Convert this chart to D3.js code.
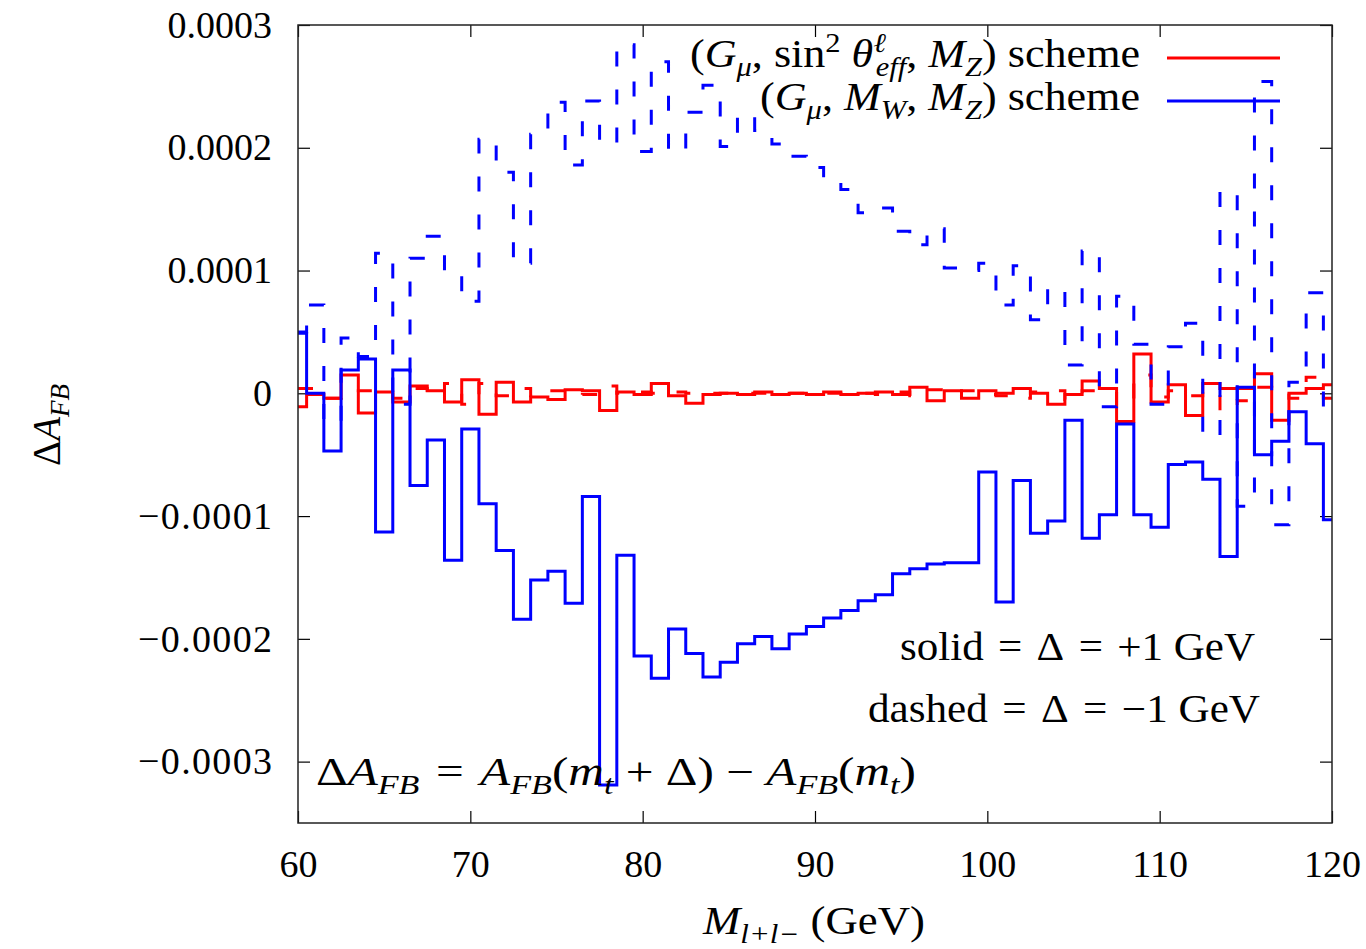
<!DOCTYPE html>
<html>
<head>
<meta charset="utf-8">
<script src="https://cdn.jsdelivr.net/npm/d3@7"></script>
<style>
  body { margin: 0; background: #fff; }
  text { font-family: "Liberation Serif", "DejaVu Serif", serif; fill: #000; }
</style>
</head>
<body>
<svg id="chart" width="1366" height="949"></svg>
<script>
// invariant mass bins (GeV)
const masses = [60, 61, 62, 63, 64, 65, 66, 67, 68, 69, 70, 71, 72, 73, 74, 75, 76, 77, 78, 79,
  80, 81, 82, 83, 84, 85, 86, 87, 88, 89, 90, 91, 92, 93, 94, 95, 96, 97, 98, 99,
  100, 101, 102, 103, 104, 105, 106, 107, 108, 109, 110, 111, 112, 113, 114, 115, 116, 117, 118, 119, 120];

// all values below are Delta A_FB in units of 1e-4
// (G_mu, sin2theta_eff, M_Z) scheme, Delta = +1 GeV
const redSolid = [-0.11, -0.01, -0.04, 0.15, -0.16, 0.01, -0.07, 0.06, 0.02, -0.07,
  0.11, -0.17, 0.09, -0.07, -0.03, -0.05, 0.03, 0.02, -0.14, 0.01,
  -0.01, 0.08, -0.02, -0.08, -0.01, 0.00, -0.01, 0.01, -0.01, 0.00,
  -0.01, 0.01, -0.01, 0.00, 0.01, -0.01, 0.05, -0.06, 0.02, -0.04,
  0.02, 0.00, 0.04, 0.00, -0.09, -0.01, 0.10, 0.04, -0.23, 0.32,
  -0.07, 0.07, -0.18, 0.08, 0.04, 0.04, 0.16, -0.22, 0.00, 0.04, 0.07];
// (G_mu, sin2theta_eff, M_Z) scheme, Delta = -1 GeV
const redDashed = [0.04, 0.04, -0.04, -0.03, 0.02, 0.02, -0.04, 0.04, -0.02, 0.08,
  -0.09, 0.08, -0.02, 0.04, -0.02, 0.02, -0.02, -0.01, 0.06, 0.00,
  0.01, 0.00, 0.01, 0.00, 0.00, 0.00, 0.00, 0.00, 0.00, 0.00,
  0.00, 0.00, 0.00, 0.00, -0.01, 0.01, -0.02, 0.03, 0.00, 0.02,
  -0.01, -0.02, -0.04, 0.01, 0.02, -0.05, 0.02, 0.02, -0.10, 0.15,
  -0.03, 0.02, -0.02, 0.02, -0.14, -0.06, 0.05, 0.04, -0.04, 0.13, -0.04];
// (G_mu, M_W, M_Z) scheme, Delta = +1 GeV
const blueSolid = [0.49, 0.00, -0.47, 0.19, 0.28, -1.13, 0.19, -0.75, -0.38, -1.36,
  -0.29, -0.90, -1.28, -1.84, -1.52, -1.45, -1.71, -0.84, -3.19, -1.32,
  -2.14, -2.32, -1.92, -2.12, -2.31, -2.19, -2.04, -1.98, -2.08, -1.96,
  -1.90, -1.83, -1.77, -1.69, -1.64, -1.47, -1.43, -1.39, -1.38, -1.38,
  -0.64, -1.70, -0.71, -1.14, -1.04, -0.22, -1.18, -0.99, -0.25, -0.99,
  -1.09, -0.58, -0.56, -0.70, -1.33, 0.05, -0.50, -0.39, -0.15, -0.41, -1.03];
// (G_mu, M_W, M_Z) scheme, Delta = -1 GeV
const blueDashed = [0.50, 0.72, -0.24, 0.45, 0.30, 1.14, -0.09, 1.10, 1.28, 0.97,
  0.75, 2.07, 1.80, 1.06, 2.11, 2.37, 1.86, 2.38, 2.03, 2.84,
  1.97, 2.70, 1.97, 2.29, 2.51, 2.01, 2.27, 2.14, 2.03, 1.93,
  1.84, 1.74, 1.66, 1.47, 1.51, 1.32, 1.21, 1.34, 1.02, 1.00,
  1.06, 0.72, 1.04, 0.60, 0.86, 0.23, 1.16, -0.11, 0.79, 0.40,
  -0.09, 0.38, 0.57, -0.35, 1.65, -0.92, 2.54, -1.07, 0.09, 0.82, -0.13];

const xTicks = [60, 70, 80, 90, 100, 110, 120];
const yTicks = [3, 2, 1, 0, -1, -2, -3];
const yTickLabels = ["0.0003", "0.0002", "0.0001", "0", "\u22120.0001", "\u22120.0002", "\u22120.0003"];

const margin = { top: 25, right: 34, bottom: 126, left: 298 },
  width = 1366 - margin.left - margin.right,
  height = 949 - margin.top - margin.bottom;

const svg = d3.select("#chart");
const g = svg.append("g")
  .attr("transform", "translate(" + margin.left + "," + margin.top + ")");

const x = d3.scaleLinear().domain([60, 120]).range([0, width]);
const y = d3.scaleLinear().domain([-3.5, 3]).range([height, 0]);

// axes, ticks pointing inward on all four sides
const fontSize = 39, tickFont = 38;
g.append("g")
  .attr("transform", "translate(0," + height + ")")
  .call(d3.axisBottom(x).tickValues(xTicks).tickSize(-12).tickSizeOuter(0).tickPadding(27));
g.append("g")
  .call(d3.axisTop(x).tickValues(xTicks).tickSize(-12).tickSizeOuter(0).tickFormat(""));
g.append("g")
  .attr("class", "yleft")
  .call(d3.axisLeft(y).tickValues(yTicks).tickSize(-12).tickSizeOuter(0).tickPadding(26)
    .tickFormat((d, i) => yTickLabels[i]));
g.append("g")
  .attr("transform", "translate(" + width + ",0)")
  .call(d3.axisRight(y).tickValues(yTicks).tickSize(-12).tickSizeOuter(0).tickFormat(""));
g.selectAll(".domain").remove();
g.selectAll(".tick line").attr("stroke", "#000").attr("stroke-width", 1.2);
g.selectAll(".tick text")
  .attr("font-family", "'Liberation Serif', serif")
  .attr("font-size", tickFont)
  .attr("fill", "#000");
// TeX minus is wider than the font's one
g.selectAll(".yleft .tick text")
  .filter((d) => d < 0)
  .attr("textLength", 134)
  .attr("lengthAdjust", "spacing");

// histogram steps (gnuplot histeps style)
const stepLine = (vals) => d3.line()
  .curve(d3.curveStep)
  .x((d, i) => x(masses[i]))
  .y((d) => y(d))(vals);

const series = [
  { vals: redSolid, color: "#ff0000", dash: null },
  { vals: redDashed, color: "#ff0000", dash: "15,23" },
  { vals: blueSolid, color: "#0000ff", dash: null },
  { vals: blueDashed, color: "#0000ff", dash: "15,23" },
];
g.append("defs").append("clipPath").attr("id", "clip")
  .append("rect").attr("width", width).attr("height", height);
series.forEach((s) => {
  g.append("path")
    .attr("clip-path", "url(#clip)")
    .attr("d", stepLine(s.vals))
    .attr("fill", "none")
    .attr("stroke", s.color)
    .attr("stroke-width", 3)
    .attr("stroke-dasharray", s.dash);
});

// frame
g.append("rect")
  .attr("width", width).attr("height", height)
  .attr("fill", "none").attr("stroke", "#222").attr("stroke-width", 1.5);

// rich text helper: segments with italic / sub / sup, fitted to the given length
const SP = "\u2004"; // slightly wider space, like TeX's around relations
function rich(parent, px, py, anchor, len, segs, transform) {
  const t = parent.append("text")
    .attr("x", px).attr("y", py)
    .attr("text-anchor", anchor)
    .attr("font-size", fontSize);
  if (transform) t.attr("transform", transform);
  if (len) t.attr("textLength", len).attr("lengthAdjust", "spacingAndGlyphs");
  let cur = 0;
  segs.forEach((s) => {
    const off = s.p === "sub" ? 9 : s.p === "sup" ? -15 : 0;
    const ts = t.append("tspan")
      .attr("dy", off - cur)
      .attr("font-size", s.p ? 27 : fontSize)
      .attr("font-style", s.i ? "italic" : "normal")
      .text(s.t);
    if (s.dx) ts.attr("dx", s.dx);
    cur = off;
  });
  return t;
}

// legend
rich(svg, 1140, 67, "end", 450, [
  { t: "(" }, { t: "G", i: 1 }, { t: "\u03bc", i: 1, p: "sub" }, { t: ", sin" },
  { t: "2", p: "sup" }, { t: " " }, { t: "\u03b8", i: 1 }, { t: "\u2113", i: 1, p: "sup" },
  { t: "eff", i: 1, p: "sub", dx: -9 }, { t: ", " }, { t: "M", i: 1 }, { t: "Z", i: 1, p: "sub" },
  { t: ") scheme" },
]);
rich(svg, 1140, 110, "end", 380, [
  { t: "(" }, { t: "G", i: 1 }, { t: "\u03bc", i: 1, p: "sub" }, { t: ", " },
  { t: "M", i: 1 }, { t: "W", i: 1, p: "sub" }, { t: ", " }, { t: "M", i: 1 },
  { t: "Z", i: 1, p: "sub" }, { t: ") scheme" },
]);
svg.append("line").attr("x1", 1167).attr("x2", 1280).attr("y1", 58).attr("y2", 58)
  .attr("stroke", "#ff0000").attr("stroke-width", 3);
svg.append("line").attr("x1", 1167).attr("x2", 1280).attr("y1", 101).attr("y2", 101)
  .attr("stroke", "#0000ff").attr("stroke-width", 3);

// annotations
rich(svg, 1255, 660, "end", 355, [{ t: "solid" + SP + "=" + SP + "\u0394" + SP + "=" + SP + "+1 GeV" }]);
rich(svg, 1260, 722, "end", 392, [{ t: "dashed" + SP + "=" + SP + "\u0394" + SP + "=" + SP + "\u22121 GeV" }]);
rich(svg, 316, 785, "start", 600, [
  { t: "\u0394" }, { t: "A", i: 1 }, { t: "FB", i: 1, p: "sub" }, { t: SP + "=" + SP },
  { t: "A", i: 1 }, { t: "FB", i: 1, p: "sub" }, { t: "(" }, { t: "m", i: 1 },
  { t: "t", i: 1, p: "sub" }, { t: " + \u0394) \u2212 " }, { t: "A", i: 1 },
  { t: "FB", i: 1, p: "sub" }, { t: "(" }, { t: "m", i: 1 }, { t: "t", i: 1, p: "sub" },
  { t: ")" },
]);

// axis titles
rich(svg, 814, 934, "middle", 222, [
  { t: "M", i: 1 }, { t: "l+l\u2212", i: 1, p: "sub" }, { t: "  (GeV)" },
]);
rich(svg, 0, 0, "middle", null, [
  { t: "\u0394" }, { t: "A", i: 1 }, { t: "FB", i: 1, p: "sub" },
], "translate(60,425) rotate(-90)");
</script>
</body>
</html>
